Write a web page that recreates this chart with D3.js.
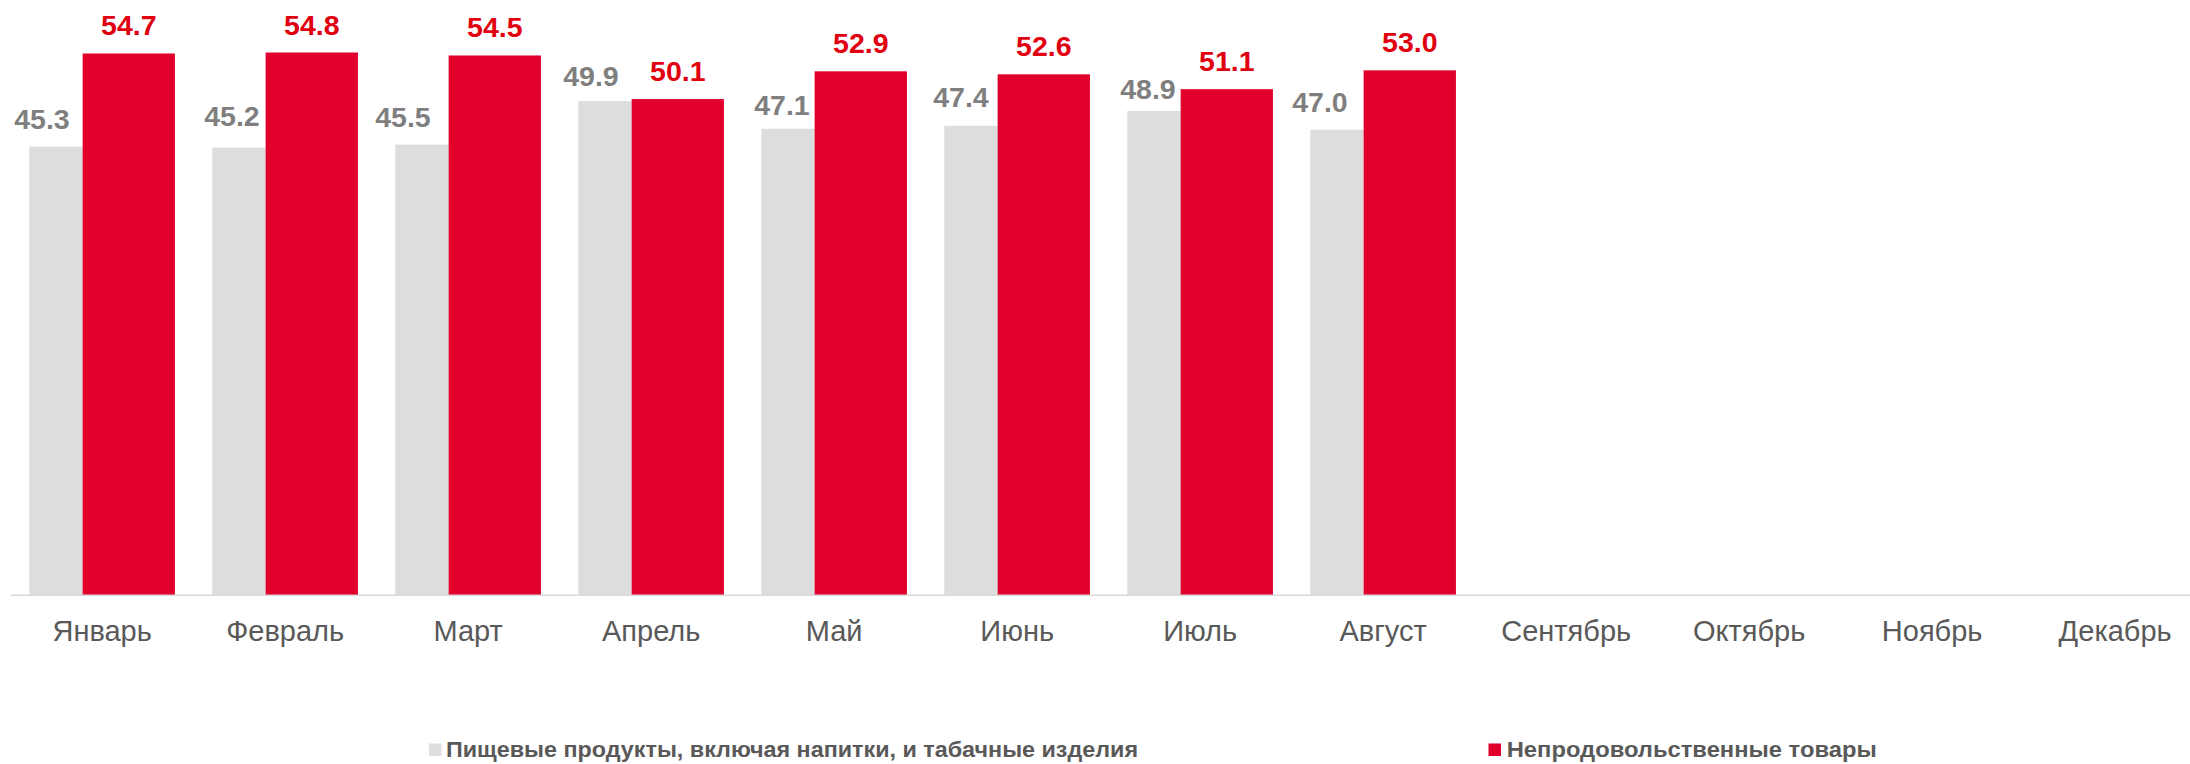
<!DOCTYPE html>
<html>
<head>
<meta charset="utf-8">
<script src="https://cdn.jsdelivr.net/npm/d3@7"></script>
<style>
  html, body { margin: 0; padding: 0; background: #ffffff; }
  svg { display: block; }
</style>
</head>
<body>
<svg id="chart" width="2190" height="764"></svg>
<script>
// ---- data ----
const months = ["Январь", "Февраль", "Март", "Апрель", "Май", "Июнь", "Июль", "Август",
                "Сентябрь", "Октябрь", "Ноябрь", "Декабрь"];
const foodValues = [45.3, 45.2, 45.5, 49.9, 47.1, 47.4, 48.9, 47.0];
const nonFoodValues = [54.7, 54.8, 54.5, 50.1, 52.9, 52.6, 51.1, 53.0];
const seriesNames = ["Пищевые продукты, включая напитки, и табачные изделия", "Непродовольственные товары"];

// label nudges for the grey series (as placed in the original)
const foodLabelDx = [-14, -7, -19, -14, -6, -10, -6, -17];
const foodLabelDy = [18, 22, 18, 15, 14, 19, 12, 18];

// ---- layout ----
const W = 2190, H = 764;
const axisY = 595.3;
const bandW = 183;
const x0 = 10.65;
const svg = d3.select("#chart");

const x = d3.scaleBand().domain(months).range([x0, x0 + bandW * months.length]).padding(0);
const y = d3.scaleLinear().domain([0, 60]).range([axisY, axisY - 60 * 9.905]);

const bw = x.bandwidth();
const grayOff = bw * 0.102, grayW = bw * 0.2913;
const redOff = grayOff + grayW, redW = bw * 0.5044;

const colGray = "#DDDDDD", colRed = "#E0002B";

const gFood = svg.append("g");
gFood.selectAll("rect").data(foodValues).join("rect")
  .attr("x", (d, i) => x(months[i]) + grayOff)
  .attr("width", grayW)
  .attr("y", d => y(d))
  .attr("height", d => axisY - y(d))
  .attr("fill", colGray);

const gNon = svg.append("g");
gNon.selectAll("rect").data(nonFoodValues).join("rect")
  .attr("x", (d, i) => x(months[i]) + redOff)
  .attr("width", redW)
  .attr("y", d => y(d))
  .attr("height", d => axisY - y(d))
  .attr("fill", colRed);

// data labels
const fontFam = "'Liberation Sans', Arial, sans-serif";
svg.append("g").selectAll("text").data(foodValues).join("text")
  .attr("x", (d, i) => x(months[i]) + grayOff + grayW / 2 + foodLabelDx[i])
  .attr("y", (d, i) => y(d) - foodLabelDy[i])
  .attr("text-anchor", "middle")
  .attr("font-family", fontFam)
  .attr("font-weight", "bold")
  .attr("font-size", 28.5)
  .attr("fill", "#7F7F7F")
  .text(d => d.toFixed(1));

svg.append("g").selectAll("text").data(nonFoodValues).join("text")
  .attr("x", (d, i) => x(months[i]) + redOff + redW / 2)
  .attr("y", d => y(d) - 18)
  .attr("text-anchor", "middle")
  .attr("font-family", fontFam)
  .attr("font-weight", "bold")
  .attr("font-size", 28.5)
  .attr("fill", "#E0000F")
  .text(d => d.toFixed(1));

// x axis
const xAxis = d3.axisBottom(x).tickSize(0).tickPadding(0);
const ax = svg.append("g").attr("transform", `translate(0,${axisY})`).call(xAxis);
ax.select(".domain").attr("stroke", "#D9D9D9").attr("stroke-width", 1.6)
  .attr("d", `M${x0},0H${W}`);
ax.selectAll(".tick text")
  .attr("dy", null)
  .attr("y", 46)
  .attr("font-family", fontFam)
  .attr("font-size", 29)
  .attr("fill", "#595959");

// legend
const legend = svg.append("g");
legend.append("rect").attr("x", 429).attr("y", 743.5).attr("width", 12.5).attr("height", 12.5).attr("fill", colGray);
legend.append("text").attr("x", 446).attr("y", 756.5)
  .attr("font-family", fontFam).attr("font-weight", "bold").attr("font-size", 22)
  .attr("fill", "#595959")
  .attr("textLength", 692).attr("lengthAdjust", "spacingAndGlyphs")
  .text(seriesNames[0]);
legend.append("rect").attr("x", 1488.5).attr("y", 743.5).attr("width", 12.5).attr("height", 12.5).attr("fill", colRed);
legend.append("text").attr("x", 1506.7).attr("y", 756.5)
  .attr("font-family", fontFam).attr("font-weight", "bold").attr("font-size", 22)
  .attr("fill", "#595959")
  .attr("textLength", 370).attr("lengthAdjust", "spacingAndGlyphs")
  .text(seriesNames[1]);
</script>
</body>
</html>
